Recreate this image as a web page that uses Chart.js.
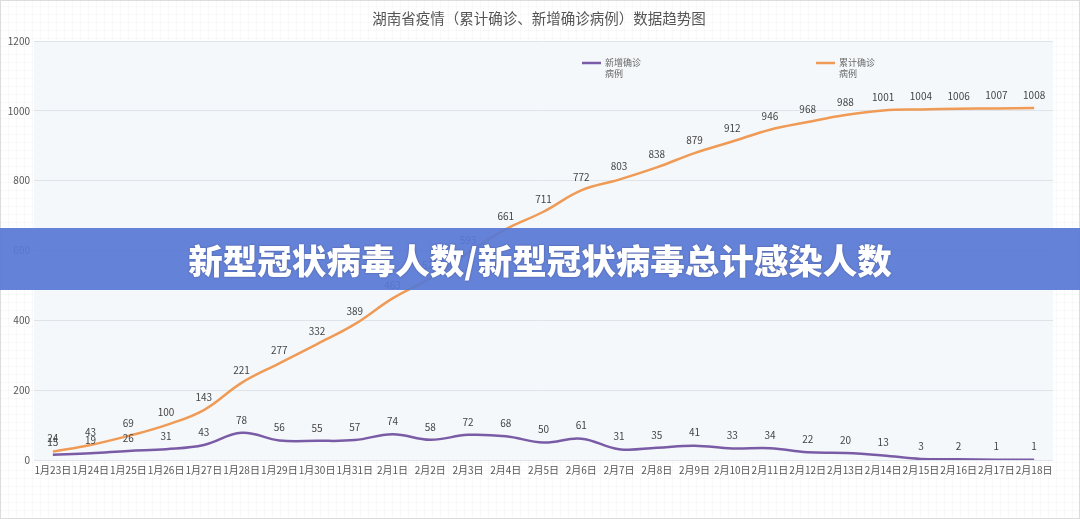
<!DOCTYPE html>
<html>
<head>
<meta charset="utf-8">
<script src="https://cdn.jsdelivr.net/npm/chart.js@4/dist/chart.umd.min.js"></script>
<style>
    html, body { margin: 0; padding: 0; }
    body {
        width: 1080px; height: 519px; position: relative; overflow: hidden;
        background-color: #fff;
        background-image:
            repeating-linear-gradient(0deg, rgba(0,0,0,0.025) 0 1px, transparent 1px 8px),
            repeating-linear-gradient(90deg, rgba(0,0,0,0.025) 0 1px, transparent 1px 8px);
        font-family: "Noto Sans CJK SC", "Noto Sans", sans-serif;
    }
    #wrap { position: absolute; left: 0; top: 0; width: 1080px; height: 519px; box-sizing: border-box; border: 1px solid #dcdcdc; }
    #chart { position: absolute; left: 0; top: 0; }
    #banner {
        position: absolute; left: 0; top: 228px; width: 1080px; height: 62px;
        background: rgba(88, 120, 212, 0.93);
        color: #fff; font-weight: 900; font-size: 34.5px; line-height: 62px;
        text-align: center;
        text-shadow: 0 0 2px rgba(40,40,80,0.5);
    }
</style>
</head>
<body>
<div id="wrap"><canvas id="chart" width="1080" height="519"></canvas></div>
<div id="banner">新型冠状病毒人数/新型冠状病毒总计感染人数</div>
<script>
const dates = ['1月23日','1月24日','1月25日','1月26日','1月27日','1月28日','1月29日','1月30日','1月31日',
    '2月1日','2月2日','2月3日','2月4日','2月5日','2月6日','2月7日','2月8日','2月9日','2月10日',
    '2月11日','2月12日','2月13日','2月14日','2月15日','2月16日','2月17日','2月18日'];
const newCases = [15, 19, 26, 31, 43, 78, 56, 55, 57, 74, 58, 72, 68, 50, 61, 31, 35, 41, 33, 34, 22, 20, 13, 3, 2, 1, 1];
const totalCases = [24, 43, 69, 100, 143, 221, 277, 332, 389, 463, 521, 593, 661, 711, 772, 803, 838, 879, 912, 946, 968, 988, 1001, 1004, 1006, 1007, 1008];
const yTicks = [0, 200, 400, 600, 800, 1000, 1200];
const titleText = '湖南省疫情（累计确诊、新增确诊病例）数据趋势图';

const FONT = '"Noto Sans CJK SC", "Noto Sans", sans-serif';

// plot background, title, legend and point labels
const decor = {
    id: 'decor',
    beforeDraw(chart) {
        const { ctx, chartArea: a } = chart;
        ctx.save();
        ctx.fillStyle = '#f5f8fb';
        ctx.fillRect(a.left, a.top, a.right - a.left, a.bottom - a.top);
        ctx.fillStyle = '#555';
        ctx.font = '14.5px ' + FONT;
        ctx.textAlign = 'center';
        ctx.textBaseline = 'middle';
        ctx.fillText(titleText, 538, 17);
        ctx.restore();
    },
    afterDatasetsDraw(chart) {
        const { ctx } = chart;
        ctx.save();
        ctx.font = '10px ' + FONT;
        ctx.fillStyle = '#444';
        ctx.textAlign = 'center';
        ctx.textBaseline = 'bottom';
        chart.data.datasets.forEach((ds, i) => {
            chart.getDatasetMeta(i).data.forEach((pt, j) => {
                ctx.fillText(String(ds.data[j]), pt.x, pt.y - 8);
            });
        });
        // legend
        const legendX = [581, 815];
        chart.data.datasets.forEach((ds, i) => {
            const x = legendX[i];
            ctx.strokeStyle = ds.borderColor;
            ctx.lineWidth = 2.5;
            ctx.beginPath();
            ctx.moveTo(x, 62);
            ctx.lineTo(x + 19, 62);
            ctx.stroke();
            ctx.fillStyle = '#666';
            ctx.font = '9px ' + FONT;
            ctx.textAlign = 'left';
            ctx.textBaseline = 'middle';
            ctx.fillText(ds.label.slice(0, 4), x + 23, 62);
            ctx.fillText(ds.label.slice(4), x + 23, 73);
        });
        ctx.restore();
    }
};

new Chart(document.getElementById('chart'), {
    type: 'line',
    data: {
        labels: dates,
        datasets: [
            { label: '新增确诊病例', data: newCases, borderColor: '#7a5ca6', borderWidth: 2.5, tension: 0.4, pointRadius: 0 },
            { label: '累计确诊病例', data: totalCases, borderColor: '#ef9a55', borderWidth: 2.5, tension: 0.4, pointRadius: 0 }
        ]
    },
    options: {
        responsive: false,
        animation: false,
        layout: { padding: { top: 40, right: 28, left: 0, bottom: 0 } },
        plugins: { legend: { display: false }, tooltip: { enabled: false } },
        scales: {
            x: {
                offset: true,
                grid: { display: false, drawTicks: false },
                border: { display: false },
                ticks: { color: '#555', font: { size: 10, family: FONT }, maxRotation: 0, autoSkip: false, padding: 4 },
                afterFit(s) { s.height = 60; }
            },
            y: {
                min: 0, max: 1200,
                afterBuildTicks(s) { s.ticks = yTicks.map(v => ({ value: v })); },
                grid: { color: '#dfe4ea', drawTicks: false },
                border: { display: false },
                ticks: { color: '#555', font: { size: 10, family: FONT }, padding: 4, callback: v => String(v) },
                afterFit(s) { s.width = 33; }
            }
        }
    },
    plugins: [decor]
});
</script>
</body>
</html>
